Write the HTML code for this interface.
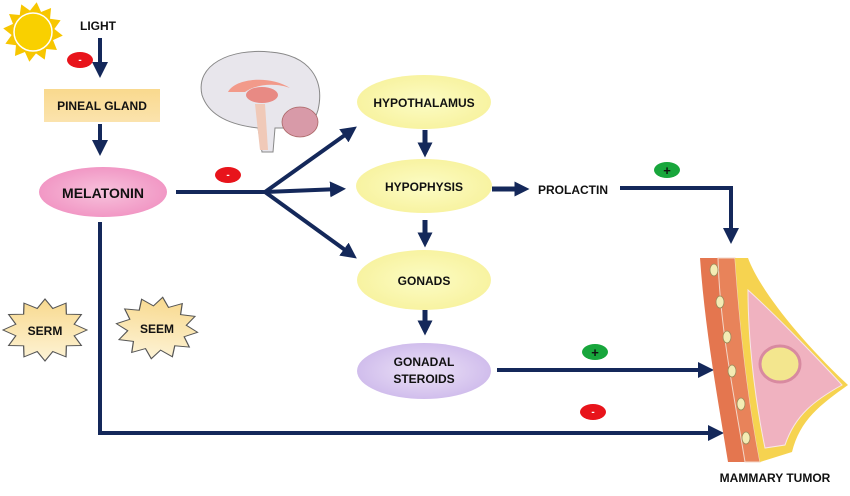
<!DOCTYPE html>
<html><head><meta charset="utf-8"><style>
html,body{margin:0;padding:0;background:#fff;}
svg{display:block;font-family:"Liberation Sans",Arial,sans-serif;font-weight:bold;}
</style></head><body>
<svg width="850" height="496" viewBox="0 0 850 496" xmlns="http://www.w3.org/2000/svg">
<defs>
<linearGradient id="pin" x1="0" y1="0" x2="0" y2="1"><stop offset="0" stop-color="#f9d98e"/><stop offset="1" stop-color="#fbe3ad"/></linearGradient>
<radialGradient id="mel" cx="0.5" cy="0.5" r="0.6"><stop offset="0" stop-color="#f7c2dc"/><stop offset="1" stop-color="#f08fc0"/></radialGradient>
<radialGradient id="yel" cx="0.5" cy="0.5" r="0.6"><stop offset="0" stop-color="#fcfcc4"/><stop offset="1" stop-color="#f7f19a"/></radialGradient>
<radialGradient id="lav" cx="0.5" cy="0.5" r="0.6"><stop offset="0" stop-color="#ece2f7"/><stop offset="1" stop-color="#cbb6ea"/></radialGradient>
<linearGradient id="star" x1="0" y1="0" x2="0" y2="1"><stop offset="0" stop-color="#f8d98e"/><stop offset="1" stop-color="#fdf3d6"/></linearGradient>
<polygon id="st" points="1,0 .695,.186 .866,.5 .509,.509 .5,.866 .186,.695 0,1 -.186,.695 -.5,.866 -.509,.509 -.866,.5 -.695,.186 -1,0 -.695,-.186 -.866,-.5 -.509,-.509 -.5,-.866 -.186,-.695 0,-1 .186,-.695 .5,-.866 .509,-.509 .866,-.5 .695,-.186"/>
<marker id="ah" markerWidth="4" markerHeight="4" refX="2.5" refY="2" orient="auto" markerUnits="strokeWidth"><path d="M0,0 L4,2 L0,4 Z" fill="#14285a"/></marker>
<marker id="ah2" markerWidth="3" markerHeight="3" refX="1.5" refY="1.5" orient="auto" markerUnits="strokeWidth"><path d="M0,0 L3,1.5 L0,3 Z" fill="#14285a"/></marker>
</defs>

<!-- sun -->
<g transform="translate(33,32)">
<use href="#st" transform="scale(30) rotate(7)" fill="#f7c600"/>
<circle r="19" fill="#f9d000" stroke="#fff" stroke-width="1.5"/>
</g>
<text x="80" y="30" font-size="12" fill="#111">LIGHT</text>
<g stroke="#14285a" fill="none" stroke-width="4">
<line x1="100" y1="38" x2="100" y2="72" marker-end="url(#ah)"/>
<line x1="100" y1="124" x2="100" y2="150" marker-end="url(#ah)"/>
<line x1="176" y1="192" x2="268" y2="192"/>
<line x1="265" y1="192" x2="352" y2="130" marker-end="url(#ah)"/>
<line x1="265" y1="192" x2="340" y2="189" marker-end="url(#ah)"/>
<line x1="265" y1="192" x2="352" y2="255" marker-end="url(#ah)"/>
<line x1="425" y1="130" x2="425" y2="150" stroke-width="5" marker-end="url(#ah2)"/>
<line x1="425" y1="220" x2="425" y2="240" stroke-width="5" marker-end="url(#ah2)"/>
<line x1="425" y1="310" x2="425" y2="328" stroke-width="5" marker-end="url(#ah2)"/>
<line x1="492" y1="189" x2="522" y2="189" stroke-width="5" marker-end="url(#ah2)"/>
<polyline points="620,188 731,188 731,238" marker-end="url(#ah)"/>
<line x1="497" y1="370" x2="708" y2="370" marker-end="url(#ah)"/>
<polyline points="100,222 100,433 718,433" marker-end="url(#ah)"/>
</g>

<ellipse cx="80" cy="60" rx="13" ry="8" fill="#e8141b"/><text x="80" y="63" font-size="10" text-anchor="middle" fill="#fff">-</text>
<ellipse cx="228" cy="175" rx="13" ry="8" fill="#e8141b"/><text x="228" y="178" font-size="10" text-anchor="middle" fill="#fff">-</text>
<ellipse cx="593" cy="412" rx="13" ry="8" fill="#e8141b"/><text x="593" y="415" font-size="10" text-anchor="middle" fill="#fff">-</text>
<ellipse cx="667" cy="170" rx="13" ry="8" fill="#18a63c"/><text x="667" y="175" font-size="13" text-anchor="middle" fill="#111">+</text>
<ellipse cx="595" cy="352" rx="13" ry="8" fill="#18a63c"/><text x="595" y="357" font-size="13" text-anchor="middle" fill="#111">+</text>

<rect x="44" y="89" width="116" height="33" fill="url(#pin)"/>
<text x="102" y="110" font-size="12" text-anchor="middle" fill="#111">PINEAL GLAND</text>
<ellipse cx="103" cy="192" rx="64" ry="25" fill="url(#mel)"/>
<text x="103" y="198" font-size="14" text-anchor="middle" fill="#111">MELATONIN</text>

<ellipse cx="424" cy="102" rx="67" ry="27" fill="url(#yel)"/>
<text x="424" y="107" font-size="12" text-anchor="middle" fill="#111">HYPOTHALAMUS</text>
<ellipse cx="424" cy="186" rx="68" ry="27" fill="url(#yel)"/>
<text x="424" y="191" font-size="12" text-anchor="middle" fill="#111">HYPOPHYSIS</text>
<ellipse cx="424" cy="280" rx="67" ry="30" fill="url(#yel)"/>
<text x="424" y="285" font-size="12" text-anchor="middle" fill="#111">GONADS</text>
<ellipse cx="424" cy="371" rx="67" ry="28" fill="url(#lav)"/>
<text x="424" y="366" font-size="12" text-anchor="middle" fill="#111">GONADAL</text>
<text x="424" y="383" font-size="12" text-anchor="middle" fill="#111">STEROIDS</text>
<text x="538" y="194" font-size="12" fill="#111">PROLACTIN</text>

<use href="#st" transform="translate(45,330) scale(42,31)" fill="url(#star)" stroke="#555" stroke-width="0.03"/>
<text x="45" y="335" font-size="12" text-anchor="middle" fill="#111">SERM</text>
<use href="#st" transform="translate(157,328) scale(41,31) rotate(8)" fill="url(#star)" stroke="#555" stroke-width="0.03"/>
<text x="157" y="333" font-size="12" text-anchor="middle" fill="#111">SEEM</text>

<!-- brain -->
<g>
<path d="M202,95 C195,65 230,48 270,52 C310,55 325,80 318,110 C312,130 300,132 290,128 L275,128 L273,152 L262,152 L258,128 C240,126 210,120 202,95 Z" fill="#e8e6ec" stroke="#888" stroke-width="1"/>
<path d="M228,92 C235,78 270,75 290,88 C280,84 260,82 245,92 Z" fill="#f29a8a"/>
<ellipse cx="262" cy="95" rx="16" ry="8" fill="#e88a84"/>
<ellipse cx="300" cy="122" rx="18" ry="15" fill="#d89aa8" stroke="#a66" stroke-width="0.8"/>
<path d="M255,104 L265,104 L268,150 L260,150 Z" fill="#f0c9b8"/>
</g>

<!-- breast -->
<g>
<path d="M700,258 L718,258 C720,330 735,400 745,462 L728,462 C718,400 705,330 700,258 Z" fill="#e4764f"/>
<path d="M718,258 L735,258 C740,330 748,400 760,462 L745,462 C735,400 720,330 718,258 Z" fill="#e8835a" stroke="#f3d7c8" stroke-width="1"/>
<path d="M735,258 L748,258 C760,290 800,340 848,385 C820,405 800,420 792,452 L760,462 C748,400 740,330 735,258 Z" fill="#f6d350"/>
<path d="M748,290 C770,310 810,350 842,385 C815,400 795,415 785,445 L765,448 C755,400 748,340 748,290 Z" fill="#f0b2c0" stroke="#f8e6e8" stroke-width="1"/>
<ellipse cx="780" cy="364" rx="20" ry="18" fill="#f3e68e" stroke="#d88aa0" stroke-width="3"/>
<g fill="#f4ecb4" stroke="#9a8a5a" stroke-width="0.8">
<ellipse cx="714" cy="270" rx="4" ry="6"/><ellipse cx="720" cy="302" rx="4" ry="6"/><ellipse cx="727" cy="337" rx="4" ry="6"/><ellipse cx="732" cy="371" rx="4" ry="6"/><ellipse cx="741" cy="404" rx="4" ry="6"/><ellipse cx="746" cy="438" rx="4" ry="6"/>
</g>
</g>
<text x="775" y="482" font-size="12" text-anchor="middle" fill="#111">MAMMARY TUMOR</text>
</svg>
</body></html>
